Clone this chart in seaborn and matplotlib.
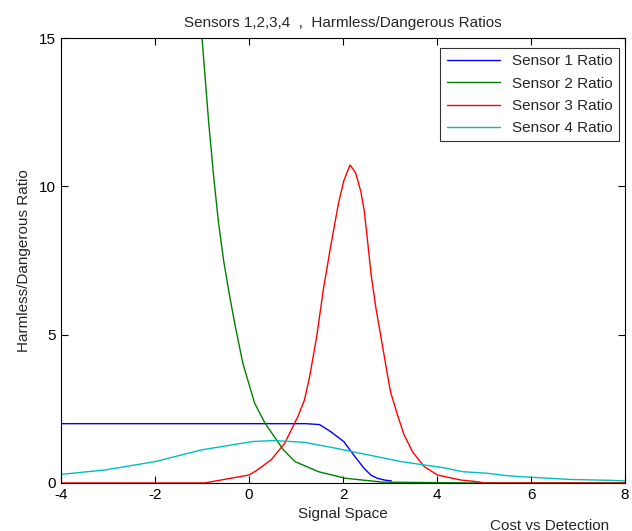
import matplotlib
matplotlib.use("Agg")
import matplotlib.pyplot as plt
import seaborn as sns
import pandas as pd

# values
s1_x = [-4, 1.2, 1.5, 1.74, 2.02, 2.23, 2.45, 2.6, 2.73, 2.88, 3.03]
s1_y = [2.0, 2.0, 1.97, 1.73, 1.39, 0.94, 0.49, 0.26, 0.16, 0.10, 0.07]

s2_x = [-1.1, -1.0, -0.93, -0.86, -0.75, -0.65, -0.54, -0.41, -0.29, -0.13, 0.12, 0.34,
        0.73, 0.98, 1.48, 2.05, 2.83, 4.8, 8]
s2_y = [17.2, 15.0, 13.6, 12.2, 10.3, 8.8, 7.5, 6.28, 5.27, 4.03, 2.69, 2.02,
        1.12, 0.72, 0.38, 0.16, 0.03, 0.0, 0.0]

s3_x = [-4, -0.95, -0.35, 0.0, 0.15, 0.47, 0.76, 1.04, 1.18, 1.29, 1.44, 1.58, 1.74,
        1.91, 2.02, 2.15, 2.27, 2.38, 2.45, 2.52, 2.60, 2.70, 2.80, 2.91, 3.01, 3.16,
        3.30, 3.48, 3.73, 4.01, 4.33, 4.51, 4.87, 5.0, 8]
s3_y = [0, 0, 0.17, 0.27, 0.41, 0.78, 1.34, 2.24, 2.8, 3.58, 4.93, 6.5, 8.0,
        9.48, 10.2, 10.72, 10.45, 9.82, 9.2, 8.2, 7.0, 5.9, 4.99, 3.98, 3.08, 2.29,
        1.62, 1.05, 0.55, 0.27, 0.16, 0.10, 0.04, 0, 0]

s4_x = [-4, -3.06, -2, -1.0, 0.09, 0.54, 1.18, 1.82, 2.53, 3.24, 4.12, 4.55, 5.05, 5.54,
        6.04, 6.83, 7.68, 8]
s4_y = [0.29, 0.44, 0.72, 1.12, 1.40, 1.43, 1.37, 1.18, 0.95, 0.72, 0.52, 0.38, 0.33, 0.24,
        0.19, 0.12, 0.09, 0.07]

names = ["Sensor 1 Ratio", "Sensor 2 Ratio", "Sensor 3 Ratio", "Sensor 4 Ratio"]
colors = ["#0000ff", "#008000", "#ff0000", "#00bfbf"]

df = pd.concat([
    pd.DataFrame({"x": s1_x, "y": s1_y, "series": names[0]}),
    pd.DataFrame({"x": s2_x, "y": s2_y, "series": names[1]}),
    pd.DataFrame({"x": s3_x, "y": s3_y, "series": names[2]}),
    pd.DataFrame({"x": s4_x, "y": s4_y, "series": names[3]}),
], ignore_index=True)

sns.set_theme(style="white")
plt.rcParams["font.family"] = ["Liberation Sans", "DejaVu Sans"]
plt.rcParams["axes.unicode_minus"] = False

fig = plt.figure(figsize=(6.32, 5.31), dpi=100)
ax = fig.add_axes([61 / 632, 1 - 483 / 531, 564 / 632, 445 / 531])

sns.lineplot(data=df, x="x", y="y", hue="series", hue_order=names,
             palette=dict(zip(names, colors)), sort=False, estimator=None,
             linewidth=1.0, ax=ax)

ax.set_xlim(-4, 8)
ax.set_ylim(0, 15)
ax.set_xticks([-4, -2, 0, 2, 4, 6, 8])
ax.set_yticks([0, 5, 10, 15])
ax.tick_params(direction="in", length=5, width=0.8, labelsize=11, colors="black",
               top=True, right=True, bottom=True, left=True)
for sp in ax.spines.values():
    sp.set_color("black")
    sp.set_linewidth(0.8)

ax.set_title("Sensors 1,2,3,4  ,  Harmless/Dangerous Ratios", fontsize=11, pad=8)
ax.set_xlabel("Signal Space", fontsize=11)
ax.set_ylabel("Harmless/Dangerous Ratio", fontsize=11, labelpad=6)

leg = ax.legend(loc="upper right", bbox_to_anchor=(1 - 6 / 564, 1 - 10 / 445),
                borderaxespad=0, fontsize=11, handlelength=3.5, fancybox=False,
                frameon=True, labelspacing=0.55)
leg.get_frame().set_edgecolor("black")
leg.get_frame().set_linewidth(0.8)

# part of a neighbouring figure's title, cut off at the bottom edge as in the reference
fig.text(490 / 632, 1 - 519 / 531, "Cost vs Detection", fontsize=11, va="top", ha="left")

fig.savefig("out.png", dpi=100)
